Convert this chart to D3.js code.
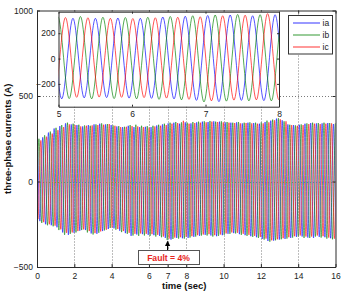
<!DOCTYPE html>
<html><head><meta charset="utf-8">
<script src="https://cdn.jsdelivr.net/npm/d3@7"></script>
<style>
html,body{margin:0;padding:0;background:#fff;}
svg{display:block;font-family:"Liberation Sans",Arial,sans-serif;}
</style></head>
<body>
<svg id="c" width="341" height="292"></svg>
<script>
// ---------- data ----------
const period = 0.3056;                 // s, one cycle of the phase currents
const phaseNames = ["ia", "ib", "ic"];
const phaseColors = ["#0000ff", "#008000", "#ff0000"];
const firstPeak = [-0.3043, -0.2025, -0.1006];   // time of first listed peak per phase
const iaPeaks = [230,244,258,286,310,324,340,334,330,322,330,334,338,334,330,322,318,326,318,318,320,318,328,334,340,344,338,346,340,346,350,348,352,350,346,344,346,340,344,342,338,348,356,368,358,334,330,332,338,342,340,340,342,336,340];
const iaTroughs = [-215,-232,-250,-256,-268,-298,-312,-300,-288,-284,-304,-306,-290,-278,-274,-288,-302,-318,-310,-308,-312,-314,-318,-330,-340,-330,-332,-330,-324,-318,-312,-316,-320,-314,-306,-302,-308,-314,-320,-326,-336,-348,-346,-340,-336,-330,-324,-322,-328,-330,-324,-326,-332,-340];
const ibPeaks = [232,250,270,292,314,330,344,338,332,328,326,334,340,336,328,324,320,330,332,326,324,326,332,338,344,348,346,344,348,350,352,354,350,352,348,344,348,344,346,344,346,356,362,370,352,332,328,334,340,344,342,344,342,340,338];
const ibTroughs = [-224,-242,-256,-262,-284,-312,-306,-298,-284,-298,-310,-300,-286,-272,-282,-296,-306,-316,-318,-316,-318,-322,-326,-342,-336,-334,-334,-328,-322,-316,-316,-322,-318,-312,-306,-304,-312,-318,-324,-330,-340,-352,-344,-338,-334,-328,-322,-330,-330,-322,-328,-334,-338,-342];
const icPeaks = [235,240,262,280,300,318,334,330,322,326,328,330,332,336,326,318,320,324,322,318,316,322,326,330,338,342,355,338,342,344,346,350,348,346,344,342,340,342,340,338,340,346,358,364,352,330,326,330,336,338,336,338,340,338];
const icTroughs = [-220,-238,-250,-258,-280,-300,-298,-290,-280,-290,-302,-292,-282,-270,-278,-290,-300,-306,-304,-306,-308,-312,-322,-334,-328,-326,-324,-320,-314,-310,-308,-314,-310,-304,-298,-300,-306,-312,-318,-324,-334,-344,-338,-332,-326,-320,-316,-322,-322,-316,-320,-328,-334,-330];
const mainXTicks = [0,2,4,6,7,8,10,12,14,16];
const mainYTicks = [-500,0,500,1000];
const insetXTicks = [5,6,7,8];
const insetYTicks = [-200,0,200];
const faultTime = 7;
const faultLabel = "Fault = 4%";
const xLabel = "time (sec)";
const yLabel = "three-phase currents (A)";

// ---------- build series ----------
const peaksAll = [iaPeaks, ibPeaks, icPeaks];
const troughsAll = [iaTroughs, ibTroughs, icTroughs];
const series = phaseNames.map((n, i) => {
  const pts = [];
  const P = peaksAll[i], T = troughsAll[i];
  const n2 = Math.max(P.length, T.length);
  for (let c = 0; c < n2; c++) {
    if (c < P.length) pts.push({t: firstPeak[i] + c * period, v: P[c]});
    if (c < T.length) pts.push({t: firstPeak[i] + period / 2 + c * period, v: T[c]});
  }
  pts.sort((a, b) => a.t - b.t);
  return {name: n, color: phaseColors[i], pts};
});

const svg = d3.select("#c");
const font = '"Liberation Sans",Arial,sans-serif';
const axisColor = "#2a2a2a";

// ---------- main axes ----------
const M = {l: 37, r: 335.5, t: 10.5, b: 267};
const x = d3.scaleLinear().domain([0, 16]).range([M.l, M.r]);
const y = d3.scaleLinear().domain([-500, 1000]).range([M.b, M.t]);

svg.append("clipPath").attr("id", "clipMain").append("rect")
  .attr("x", M.l).attr("y", M.t).attr("width", M.r - M.l).attr("height", M.b - M.t);

const lineMain = d3.line().x(d => x(d.t)).y(d => y(d.v)).curve(d3.curveMonotoneX);
const gData = svg.append("g").attr("clip-path", "url(#clipMain)");
series.forEach(s => {
  gData.append("path").attr("d", lineMain(s.pts)).attr("fill", "none")
    .attr("stroke", s.color).attr("stroke-width", 0.6);
});

// grid (dotted)
const gGrid = svg.append("g");
mainXTicks.filter(v => v > 0 && v < 16).forEach(v => {
  gGrid.append("line").attr("x1", Math.round(x(v)) + 0.5).attr("x2", Math.round(x(v)) + 0.5)
    .attr("y1", M.t).attr("y2", M.b).attr("stroke", "#7a7a7a").attr("stroke-width", 1)
    .attr("stroke-dasharray", "1,2");
});
mainYTicks.filter(v => v > -500 && v < 1000).forEach(v => {
  gGrid.append("line").attr("y1", Math.round(y(v)) + 0.5).attr("y2", Math.round(y(v)) + 0.5)
    .attr("x1", M.l).attr("x2", M.r).attr("stroke", "#7a7a7a").attr("stroke-width", 1)
    .attr("stroke-dasharray", "1,2");
});

// axes via d3.axis
const tickFmt = d3.format("d");
const axB = svg.append("g").attr("transform", `translate(0,${M.b})`)
  .call(d3.axisBottom(x).tickValues(mainXTicks).tickFormat(tickFmt).tickSizeInner(-3).tickSizeOuter(0).tickPadding(6));
const axT = svg.append("g").attr("transform", `translate(0,${M.t})`)
  .call(d3.axisTop(x).tickValues(mainXTicks).tickFormat("").tickSizeInner(-3).tickSizeOuter(0));
const axL = svg.append("g").attr("transform", `translate(${M.l},0)`)
  .call(d3.axisLeft(y).tickValues(mainYTicks).tickFormat(tickFmt).tickSizeInner(-3).tickSizeOuter(0).tickPadding(4));
const axR = svg.append("g").attr("transform", `translate(${M.r},0)`)
  .call(d3.axisRight(y).tickValues(mainYTicks).tickFormat("").tickSizeInner(-3).tickSizeOuter(0));
[axB, axT, axL, axR].forEach(g => {
  g.select(".domain").attr("stroke", axisColor);
  g.selectAll(".tick line").attr("stroke", axisColor);
  g.selectAll("text").attr("fill", "#222").attr("font-size", "8.5px").attr("font-family", font);
});

// labels
svg.append("text").attr("x", (M.l + M.r) / 2 - 2).attr("y", 288.5).attr("text-anchor", "middle")
  .attr("font-weight", "bold").attr("font-size", "9.5px").attr("fill", "#111").text(xLabel);
svg.append("text").attr("transform", `translate(11,${(M.t + M.b) / 2}) rotate(-90)`).attr("text-anchor", "middle")
  .attr("font-weight", "bold").attr("font-size", "9.5px").attr("fill", "#111").text(yLabel);

// ---------- fault annotation ----------
const fx = x(faultTime);
svg.append("rect").attr("x", 138.5).attr("y", 250.5).attr("width", 61).attr("height", 14)
  .attr("fill", "#fff").attr("stroke", "#555").attr("stroke-width", 1);
svg.append("text").attr("x", 168.5).attr("y", 261).attr("text-anchor", "middle")
  .attr("font-weight", "bold").attr("font-size", "8.6px").attr("fill", "#e8251c").text(faultLabel);
svg.append("line").attr("x1", fx).attr("x2", fx).attr("y1", 250).attr("y2", 244)
  .attr("stroke", "#000").attr("stroke-width", 1.2);
svg.append("path").attr("d", `M${fx},${240.5} L${fx - 2.6},${246} L${fx + 2.6},${246} Z`).attr("fill", "#000");

// ---------- inset ----------
const I = {l: 58.5, r: 279, t: 11.7, b: 106.7};
const xi = d3.scaleLinear().domain([5, 8]).range([I.l, I.r]);
const yi = d3.scaleLinear().domain([-380, 370]).range([I.b, I.t]);
svg.append("rect").attr("x", I.l).attr("y", I.t).attr("width", I.r - I.l).attr("height", I.b - I.t).attr("fill", "#fff");
svg.append("clipPath").attr("id", "clipInset").append("rect")
  .attr("x", I.l).attr("y", I.t).attr("width", I.r - I.l).attr("height", I.b - I.t);
const lineInset = d3.line().x(d => xi(d.t)).y(d => yi(d.v)).curve(d3.curveMonotoneX);
const gIn = svg.append("g").attr("clip-path", "url(#clipInset)");
series.forEach(s => {
  gIn.append("path").attr("d", lineInset(s.pts.filter(p => p.t > 4.5 && p.t < 8.5))).attr("fill", "none")
    .attr("stroke", s.color).attr("stroke-width", 0.9).attr("stroke-opacity", 0.75);
});
const iaxB = svg.append("g").attr("transform", `translate(0,${I.b})`)
  .call(d3.axisBottom(xi).tickValues(insetXTicks).tickFormat(tickFmt).tickSizeInner(-2).tickSizeOuter(0).tickPadding(4));
const iaxT = svg.append("g").attr("transform", `translate(0,${I.t})`)
  .call(d3.axisTop(xi).tickValues(insetXTicks).tickFormat("").tickSizeInner(-2).tickSizeOuter(0));
const iaxL = svg.append("g").attr("transform", `translate(${I.l},0)`)
  .call(d3.axisLeft(yi).tickValues(insetYTicks).tickFormat(tickFmt).tickSizeInner(-2).tickSizeOuter(0).tickPadding(3));
const iaxR = svg.append("g").attr("transform", `translate(${I.r},0)`)
  .call(d3.axisRight(yi).tickValues(insetYTicks).tickFormat("").tickSizeInner(-2).tickSizeOuter(0));
[iaxB, iaxT, iaxL, iaxR].forEach(g => {
  g.select(".domain").attr("stroke", axisColor);
  g.selectAll(".tick line").attr("stroke", axisColor);
  g.selectAll("text").attr("fill", "#222").attr("font-size", "8.5px").attr("font-family", font);
});

// ---------- legend ----------
const L = {x: 288.5, y: 15.5, w: 44, h: 38.5};
svg.append("rect").attr("x", L.x).attr("y", L.y).attr("width", L.w).attr("height", L.h)
  .attr("fill", "#fff").attr("stroke", "#333").attr("stroke-width", 1);
series.forEach((s, i) => {
  const ly = 23 + i * 12;
  svg.append("line").attr("x1", 293).attr("x2", 320).attr("y1", ly).attr("y2", ly)
    .attr("stroke", s.color).attr("stroke-width", 1).attr("stroke-opacity", 0.8);
  svg.append("text").attr("x", 322.5).attr("y", ly + 3).attr("font-size", "8.5px")
    .attr("fill", "#222").text(s.name);
});
</script>
</body></html>
